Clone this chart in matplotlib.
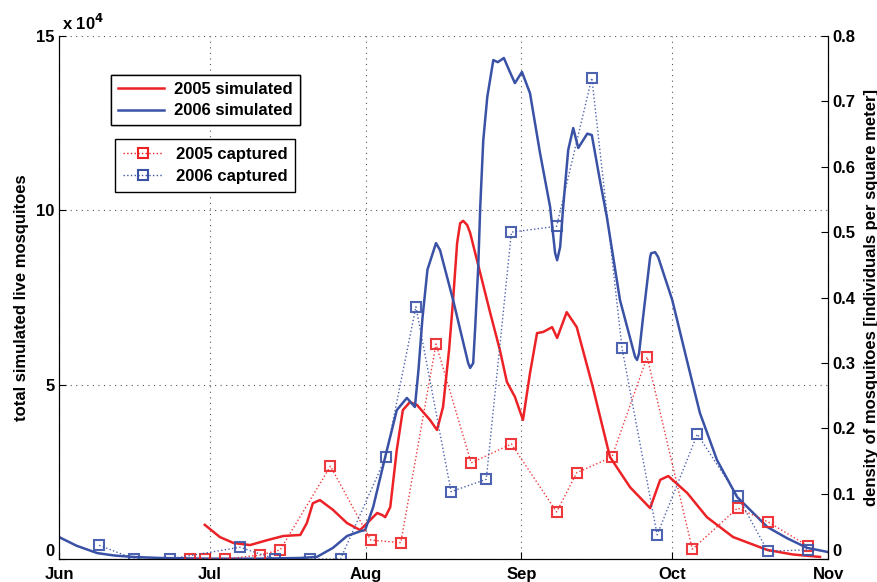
import numpy as np
import matplotlib
matplotlib.use('Agg')
import matplotlib.pyplot as plt
from matplotlib.lines import Line2D

plt.rcParams['font.family'] = ['Liberation Sans', 'DejaVu Sans']
plt.rcParams['font.weight'] = 'bold'

RED = '#ec2227'
BLUE = '#3a52a6'

# x values are days after June 1
month_days = [0, 30, 61, 92, 122, 153]
month_labels = ['Jun', 'Jul', 'Aug', 'Sep', 'Oct', 'Nov']

# simulated live mosquitoes, in units of 10^4
sim05_day = [29, 32, 34.7, 38, 41.4, 44.6, 48, 49.3, 50.5, 51.9, 54.5, 57.3, 59.9, 61.3,
             63.3, 64.3, 64.9, 65.9, 67.2, 68.4, 69.8, 71.2, 73.8, 75.2, 76.4, 77.6, 78.4,
             79.2, 79.8, 80.4, 81.2, 81.8, 83.8, 85.8, 87.7, 89.1, 90.7, 92.3, 93.7, 95.1,
             96.3, 98.1, 99.1, 101, 103, 106.2, 109.6, 113.6, 117.6, 119.6, 121.2, 125,
             128.9, 134.1, 140.9, 146, 151.4]
sim05_val = [0.98, 0.63, 0.46, 0.4, 0.54, 0.66, 0.69, 1.03, 1.6, 1.69, 1.41, 1.03, 0.83, 1.03,
             1.32, 1.26, 1.2, 1.49, 3.13, 4.27, 4.5, 4.42, 3.99, 3.7, 4.36, 6.0, 7.43,
             9.06, 9.63, 9.7, 9.58, 9.35, 8.2, 7.05, 6.0, 5.08, 4.65, 3.99, 5.33, 6.48,
             6.51, 6.65, 6.34, 7.08, 6.65, 4.93, 2.93, 2.06, 1.46, 2.27, 2.38, 1.89,
             1.2, 0.63, 0.26, 0.13, 0.06]

sim06_day = [0, 3.5, 7.6, 11, 14.7, 20, 30, 40, 48, 51.3, 54.5, 57.3, 60, 60.9, 62.5, 64.9,
             67.2, 69.2, 70.8, 71.5, 72.3, 73.3, 75, 75.8, 78.4, 81.4, 81.8, 82.4, 82.8, 83.4,
             83.8, 84.4, 85.2, 86.4, 87.3, 88.5, 89.7, 90.7, 92.1, 93.7, 95.7, 97.7, 98.7,
             99.1, 99.7, 100.3, 101.3, 102.3, 103.3, 105.1, 106, 107.6, 109, 111.6, 114.6,
             115, 115.4, 116.2, 117.6, 117.8, 118.6, 119.2, 122, 124.9, 127.5, 130.9,
             134.9, 140.9, 144.8, 148.8, 153]
sim06_val = [0.63, 0.38, 0.17, 0.1, 0.06, 0.03, 0.01, 0.01, 0.03, 0.06, 0.32, 0.66, 0.8, 0.83,
             1.49, 2.93, 4.27, 4.62, 4.36, 5.4, 6.9, 8.3, 9.06, 8.86, 7.43, 5.62, 5.48, 5.62,
             6.65, 8.37, 10.1, 12.0, 13.25, 14.31, 14.25, 14.37, 13.97, 13.65, 13.97,
             13.36, 11.64, 10.1, 8.77, 8.57, 8.95, 10.1, 11.73, 12.36, 11.79, 12.2, 12.16,
             10.87, 9.8, 7.43, 5.8, 5.71, 5.9, 6.94, 8.66, 8.77, 8.8, 8.66, 7.43, 5.71,
             4.19, 2.84, 1.78, 0.92, 0.6, 0.32, 0.2]

# captured density (individuals per square meter)
cap05_day = [26, 29, 33, 40, 44, 54, 62, 68, 75, 82, 90, 99, 103, 110, 117, 126, 135, 141, 149]
cap05_val = [0.0, 0.0, 0.0, 0.006, 0.014, 0.142, 0.029, 0.025, 0.329, 0.147, 0.176, 0.072,
             0.132, 0.156, 0.309, 0.015, 0.078, 0.057, 0.02]

cap06_day = [8, 15, 22, 36, 43, 50, 56, 65, 71, 78, 85, 90, 99, 106, 112, 119, 127, 135, 141, 149]
cap06_val = [0.021, 0.0, 0.0, 0.018, 0.0, 0.0, 0.0, 0.156, 0.386, 0.103, 0.122, 0.50, 0.509,
             0.736, 0.323, 0.037, 0.191, 0.096, 0.012, 0.014]

fig = plt.figure(figsize=(8.77, 5.82), dpi=100)
ax = fig.add_axes([0.0673, 0.0395, 0.8769, 0.8986])
ax2 = ax.twinx()

ax.plot(sim05_day, sim05_val, color=RED, lw=1.8, solid_joinstyle='round')
ax.plot(sim06_day, sim06_val, color=BLUE, lw=1.8, solid_joinstyle='round')

ax2.plot(cap05_day, cap05_val, color=RED, ls=':', lw=1.0, marker='s', ms=7,
         mfc='none', mec=RED, mew=1.5, alpha=0.9)
ax2.plot(cap06_day, cap06_val, color=BLUE, ls=':', lw=1.0, marker='s', ms=7,
         mfc='none', mec=BLUE, mew=1.5, alpha=0.9)

ax.set_xlim(0, 153)
ax.set_ylim(0, 15)
ax2.set_ylim(0, 0.8)
ax.set_xticks(month_days)
ax.set_xticklabels(month_labels)
ax.set_yticks([0, 5, 10, 15])
ax2.set_yticks(np.arange(0, 0.81, 0.1))
ax2.set_yticklabels(['0', '0.1', '0.2', '0.3', '0.4', '0.5', '0.6', '0.7', '0.8'])

ax.grid(True, ls=(0, (1, 4)), color='#555555', lw=0.8)
ax.spines['top'].set_visible(False)
ax2.spines['top'].set_visible(False)
ax.tick_params(axis='both', direction='in', length=5, labelsize=12, pad=3)
ax.tick_params(axis='x', pad=6)
ax2.tick_params(axis='y', direction='in', length=5, labelsize=12, pad=3)
for lab in ax.get_xticklabels() + ax.get_yticklabels() + ax2.get_yticklabels():
    lab.set_fontweight('bold')
ax.get_yticklabels()[0].set_va('bottom')
ax2.get_yticklabels()[0].set_va('bottom')

ax.set_ylabel('total simulated live mosquitoes', fontsize=12, fontweight='bold', labelpad=5)
ax2.set_ylabel('density of mosquitoes [individuals per square meter]', fontsize=12,
               fontweight='bold', labelpad=6)
ax.text(0.004, 1.006, r'x 10$^{4}$', transform=ax.transAxes, fontsize=12,
        fontweight='bold', ha='left', va='bottom')

h1 = [Line2D([], [], color=RED, lw=1.8), Line2D([], [], color=BLUE, lw=1.8)]
leg1 = ax.legend(h1, ['2005 simulated', '2006 simulated'], loc='upper left',
                 bbox_to_anchor=(111 / 877, 1 - 75 / 582), bbox_transform=fig.transFigure,
                 borderaxespad=0, fancybox=False, edgecolor='black', framealpha=1,
                 borderpad=0.4, labelspacing=0.4, handlelength=2.8, handletextpad=0.6,
                 prop={'weight': 'bold', 'size': 12})
leg1.get_frame().set_linewidth(1.0)
ax.add_artist(leg1)

h2 = [Line2D([], [], color=RED, ls=':', lw=1.0, marker='s', ms=7, mfc='none', mew=1.5),
      Line2D([], [], color=BLUE, ls=':', lw=1.0, marker='s', ms=7, mfc='none', mew=1.5)]
leg2 = ax2.legend(h2, ['2005 captured', '2006 captured'], loc='upper left',
                  bbox_to_anchor=(115 / 877, 1 - 139 / 582), bbox_transform=fig.transFigure,
                  borderaxespad=0, fancybox=False, edgecolor='black', framealpha=1,
                  borderpad=0.45, labelspacing=0.45, handlelength=2.4, handletextpad=0.8,
                  prop={'weight': 'bold', 'size': 12})
leg2.get_frame().set_linewidth(1.0)

fig.savefig('out.png', dpi=100)
